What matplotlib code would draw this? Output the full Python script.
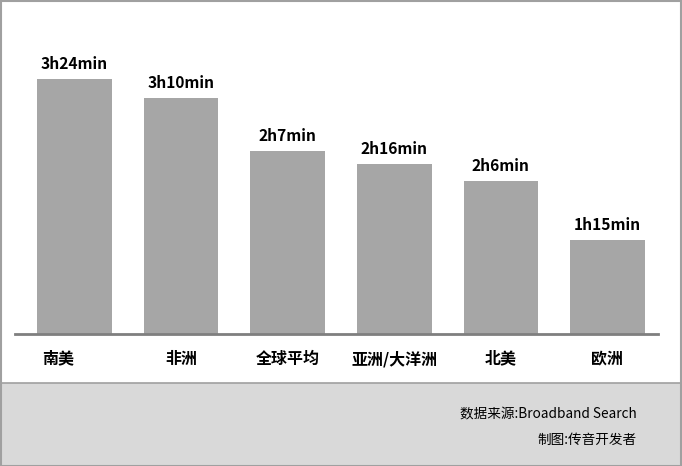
import numpy as np
import matplotlib.pyplot as plt
from matplotlib.patches import Rectangle
from matplotlib.transforms import ScaledTranslation

plt.rcParams['font.family'] = ['Noto Sans CJK SC', 'DejaVu Sans']

# datos (minutos diarios)
regiones = ['南美', '非洲', '全球平均', '亚洲/大洋洲', '北美', '欧洲']
minutos = [204, 189, 146, 136, 122, 75]
etiquetas = ['3h24min', '3h10min', '2h7min', '2h16min', '2h6min', '1h15min']

C_BARRA = '#a6a6a6'
C_EJE = '#7f7f7f'
C_BANDA = '#d9d9d9'
C_MARCO = '#a0a0a0'

W, H = 682, 466
fig = plt.figure(figsize=(W / 100, H / 100), dpi=100)
fig.patch.set_facecolor('white')

# banda inferior gris con las fuentes
fig.patches.append(Rectangle((0, 0), 1, (H - 383) / H, transform=fig.transFigure,
                             facecolor=C_BANDA, edgecolor=C_MARCO, linewidth=1.2, zorder=0))
# marco general
fig.patches.append(Rectangle((0.001, 0.001), 0.998, 0.997, transform=fig.transFigure,
                             facecolor='none', edgecolor=C_MARCO, linewidth=1.5, zorder=5))

ax = fig.add_axes([15 / W, (H - 334) / H, 643 / W, 314 / H])
ax.set_facecolor('none')
x = np.arange(len(regiones))
ax.bar(x, minutos, width=0.70, color=C_BARRA, zorder=2)

for xi, v, lbl in zip(x, minutos, etiquetas):
    ax.annotate(lbl, (xi, v), xytext=(0, 5), textcoords='offset points',
                ha='center', va='bottom', fontsize=11.2, fontweight='bold', color='black')

ax.set_xlim(-0.558, 5.474)
ax.set_ylim(0, 251)
ax.set_yticks([])
ax.set_xticks(x)
ax.set_xticklabels(regiones, fontsize=11.5, fontweight='bold')
ax.tick_params(axis='x', length=0, pad=12)
# 南美 aparece desplazado a la izquierda en el original
off = ScaledTranslation(-16 / 100, 0, fig.dpi_scale_trans)
ax.get_xticklabels()[0].set_transform(ax.get_xticklabels()[0].get_transform() + off)

for s in ['top', 'right', 'left']:
    ax.spines[s].set_visible(False)
ax.spines['bottom'].set_color(C_EJE)
ax.spines['bottom'].set_linewidth(2)

fig.text(637 / W, (H - 414) / H, '数据来源:Broadband Search', ha='right', va='center',
         fontsize=9.8, color='black')
fig.text(637 / W, (H - 440) / H, '制图:传音开发者', ha='right', va='center',
         fontsize=9.8, color='black')

fig.savefig('out.png', dpi=100)
